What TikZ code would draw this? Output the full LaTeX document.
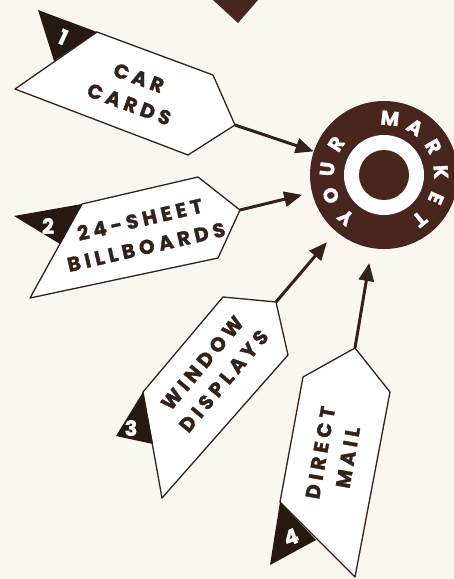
\documentclass[tikz,border=0pt]{standalone}
\usepackage{fontspec}
\newfontfamily\signfont{Poppins}[LetterSpace=22,BoldFeatures={FakeBold=1.6}]
\newfontfamily\tabfont{Poppins}[BoldFeatures={FakeBold=1.6}]
\usetikzlibrary{arrows.meta}

\definecolor{bgcream}{RGB}{250,247,240}
\definecolor{mkbrown}{RGB}{72,38,30}
\definecolor{ink}{RGB}{50,34,26}
\definecolor{tabdark}{RGB}{40,24,18}

\begin{document}
\begin{tikzpicture}[x=1pt,y=1pt,
    sign/.style={draw=ink,fill=white,line width=1.3pt,line join=round},
    flap/.style={fill=tabdark},
    signtext/.style={font=\signfont\bfseries\fontsize{20}{28}\selectfont,text=ink,align=center,inner sep=0pt},
    tabnum/.style={font=\tabfont\bfseries\fontsize{21}{21}\selectfont,text=white,inner sep=0pt},
    feed/.style={draw=ink,line width=3pt,-{Triangle[length=18pt,width=15pt]}},
    mkletter/.style={font=\tabfont\bfseries\fontsize{20}{20}\selectfont,text=white,inner sep=0pt}]
  % background and page size
  \fill[bgcream] (0,0) rectangle (454,-579);
  \useasboundingbox (0,0) rectangle (454,-579);
  % piece cut off at the top
  \fill[mkbrown] (213,0) -- (258,0) -- (238,-23) -- cycle;
  % the market target
  \node[circle,fill=mkbrown,minimum size=148pt,inner sep=0pt] (market) at (384,-175) {};
  \fill[white] (market.center) circle[radius=40];
  \fill[mkbrown] (market.center) circle[radius=25];
  \foreach \ch/\ang [count=\i] in {Y/228,O/201,U/174,R/147,M/84,A/57,R/30,K/3,E/-24,T/-51}
    \node[mkletter,rotate=\ang-90] (mk-\i) at ([shift={(\ang:57)}]market.center) {\ch};
  % 1: car cards
  \coordinate (c1a) at (97,-32);
  \coordinate (c1b) at (213,-75);
  \coordinate (tip1) at (235,-125);
  \coordinate (c1c) at (188,-155);
  \coordinate (c1d) at (15,-89);
  \draw[sign] (c1a) -- (c1b) -- (tip1) -- (c1c) -- (c1d) -- cycle;
  \fill[flap] (c1a) -- (38,-10) -- (54,-61) -- cycle;
  \node[tabnum,rotate=-25] (n1) at (63,-37) {1};
  \node[signtext,rotate=-20] (t1) at (134,-91) {CAR\\CARDS};
  % 2: billboards
  \coordinate (c2a) at (82,-204);
  \coordinate (c2b) at (198,-177);
  \coordinate (tip2) at (240,-210);
  \coordinate (c2c) at (218,-258);
  \coordinate (c2d) at (30,-298);
  \draw[sign] (c2a) -- (c2b) -- (tip2) -- (c2c) -- (c2d) -- cycle;
  \fill[flap] (c2a) -- (14,-216) -- (60,-244) -- cycle;
  \node[tabnum] (n2) at (48,-226) {2};
  \node[signtext,rotate=13] (t2) at (143,-233) {24-SHEET\\BILLBOARDS};
  % 3: window displays
  \coordinate (c3a) at (143,-392);
  \coordinate (c3b) at (223,-297);
  \coordinate (tip3) at (276,-302);
  \coordinate (c3c) at (288,-355);
  \coordinate (c3d) at (162,-498);
  \draw[sign] (c3a) -- (c3b) -- (tip3) -- (c3c) -- (c3d) -- cycle;
  \fill[flap] (c3a) -- (116,-436) -- (153,-444) -- cycle;
  \node[tabnum] (n3) at (131,-428) {3};
  \node[signtext,rotate=50] (t3) at (213,-372) {WINDOW\\DISPLAYS};
  % 4: direct mail
  \coordinate (c4a) at (280,-502);
  \coordinate (c4b) at (303,-377);
  \coordinate (tip4) at (355,-348);
  \coordinate (c4c) at (390,-392);
  \coordinate (c4d) at (355,-577);
  \draw[sign] (c4a) -- (c4b) -- (tip4) -- (c4c) -- (c4d) -- cycle;
  \fill[flap] (c4a) -- (270,-565) -- (316,-540) -- cycle;
  \node[tabnum,rotate=20] (n4) at (291,-537) {4};
  \node[signtext,rotate=80] (t4) at (334,-455) {DIRECT\\MAIL};
  % feeds into the market
  \draw[feed] (tip1) -- (market);
  \draw[feed,shorten >=10pt] (tip2) -- (market);
  \draw[feed,shorten >=14pt] (tip3) -- (market);
  \draw[feed,shorten >=15pt] (tip4) -- (market);
\end{tikzpicture}
\end{document}
